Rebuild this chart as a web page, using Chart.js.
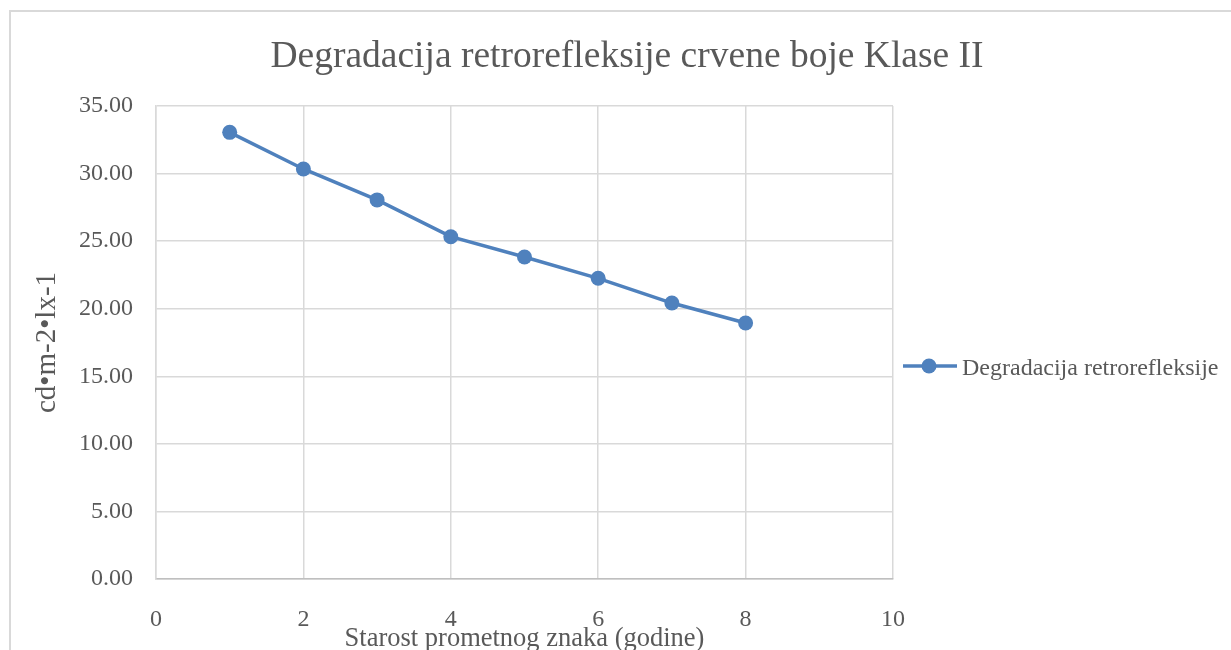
<!DOCTYPE html>
<html>
<head>
<meta charset="utf-8">
<script src="https://cdn.jsdelivr.net/npm/chart.js@4.4.1/dist/chart.umd.min.js"></script>
<style>
  html, body { margin: 0; padding: 0; background: #fff; overflow: hidden; }
  .wrap { position: relative; width: 1231px; height: 650px; }
  .frame { position: absolute; left: 9px; top: 10px; width: 1260px; height: 700px; border: 2px solid #d9d9d9; box-sizing: border-box; }
  canvas { position: absolute; left: 0; top: 0; }
</style>
</head>
<body>
<div class="wrap">
  <div class="frame"></div>
  <canvas id="degChart" width="1231" height="650"></canvas>
</div>
<script>
const years = [1, 2, 3, 4, 5, 6, 7, 8];
const retro = [33.05, 30.34, 28.05, 25.33, 23.83, 22.25, 20.42, 18.94];
const xTicks = [0, 2, 4, 6, 8, 10];
const yTicks = [0, 5, 10, 15, 20, 25, 30, 35];

const chartTitle = "Degradacija retrorefleksije crvene boje Klase II";
const seriesName = "Degradacija retrorefleksije";
const blue = "#4f81bd";
const textGray = "#595959";
const serif = "'Liberation Serif', 'Times New Roman', serif";

const points = years.map((x, i) => ({ x: x, y: retro[i] }));

// title and legend drawn by hand, Excel style
const extras = {
  id: "extras",
  afterDraw: (chart) => {
    const c = chart.ctx;
    c.save();
    c.fillStyle = textGray;
    c.font = "37.5px " + serif;
    c.textAlign = "center";
    c.textBaseline = "alphabetic";
    c.fillText(chartTitle, 627, 67);

    const ly = 366;
    c.strokeStyle = blue;
    c.lineWidth = 3.5;
    c.beginPath();
    c.moveTo(903, ly);
    c.lineTo(957, ly);
    c.stroke();
    c.fillStyle = blue;
    c.beginPath();
    c.arc(929, ly, 7.5, 0, Math.PI * 2);
    c.fill();

    c.fillStyle = textGray;
    c.font = "24px " + serif;
    c.textAlign = "left";
    c.fillText(seriesName, 962, 375);
    c.restore();
  },
};

const ctx = document.getElementById("degChart").getContext("2d");
new Chart(ctx, {
  type: "scatter",
  data: {
    datasets: [
      {
        label: seriesName,
        data: points,
        showLine: true,
        borderColor: blue,
        backgroundColor: blue,
        borderWidth: 3.5,
        pointRadius: 7.5,
        pointHoverRadius: 7.5,
        pointBorderWidth: 0,
        tension: 0,
      },
    ],
  },
  options: {
    responsive: false,
    animation: false,
    layout: { padding: { left: 0, top: 106, right: 338, bottom: 0 } },
    plugins: {
      legend: { display: false },
      title: { display: false },
      tooltip: { enabled: false },
    },
    scales: {
      x: {
        type: "linear",
        min: 0,
        max: 10,
        afterFit: (s) => { s.height = 71; },
        afterBuildTicks: (s) => { s.ticks = xTicks.map((v) => ({ value: v })); },
        grid: { color: "#d9d9d9", lineWidth: 1.5, drawTicks: false },
        border: { color: "#bfbfbf", width: 1.5 },
        ticks: {
          color: textGray,
          padding: 26,
          font: { family: serif, size: 24 },
          callback: (v) => String(v),
        },
        title: {
          display: true,
          text: "Starost prometnog znaka (godine)",
          color: textGray,
          font: { family: serif, size: 26.5, lineHeight: 1 },
          padding: { top: 0, bottom: -2 },
        },
      },
      y: {
        min: 0,
        max: 35,
        afterFit: (s) => { s.width = 156; },
        afterBuildTicks: (s) => { s.ticks = yTicks.map((v) => ({ value: v })); },
        grid: { color: "#d9d9d9", lineWidth: 1.5, drawTicks: false },
        border: { color: "#d9d9d9", width: 1.5 },
        ticks: {
          color: textGray,
          padding: 23,
          font: { family: serif, size: 24 },
          callback: (v) => v.toFixed(2),
        },
        title: {
          display: true,
          text: "cd•m-2•lx-1",
          color: textGray,
          font: { family: serif, size: 29, lineHeight: 1 },
          padding: { top: 32.5, bottom: 0 },
        },
      },
    },
  },
  plugins: [extras],
});
</script>
</body>
</html>
